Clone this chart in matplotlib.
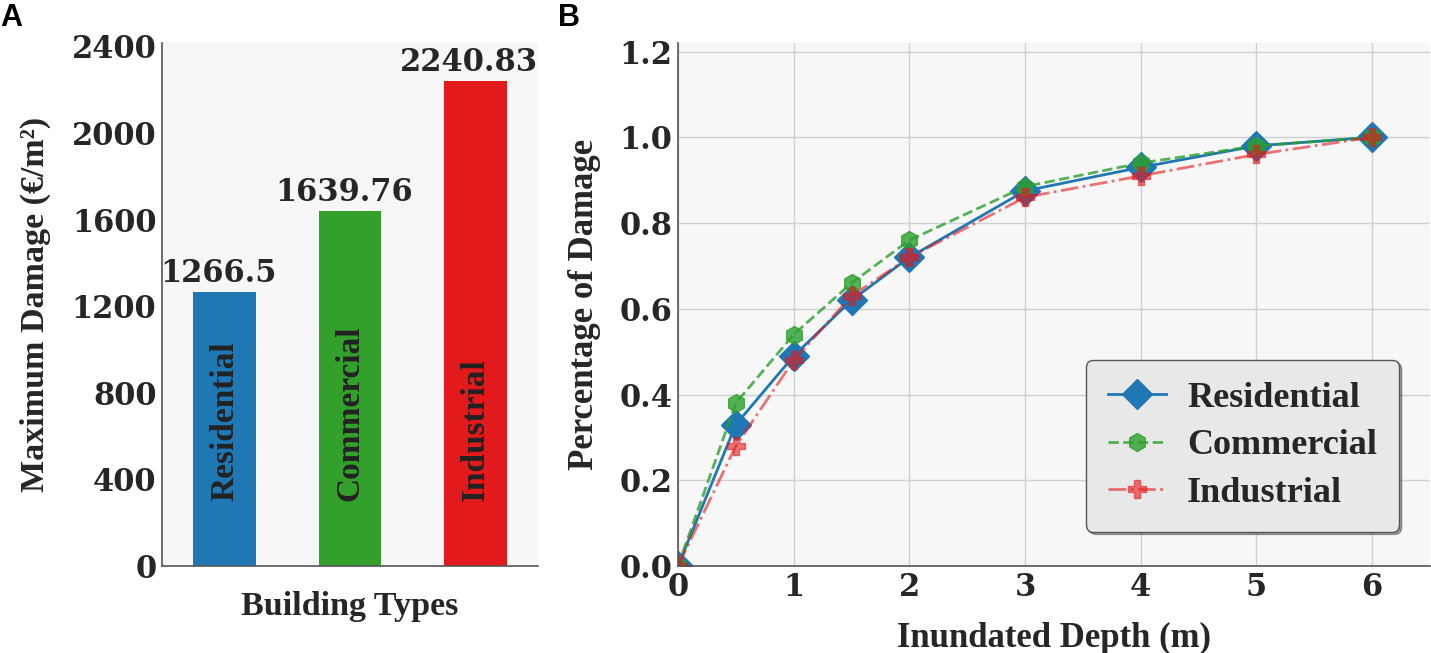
import numpy as np
import matplotlib.pyplot as plt

# panel A data
building_types = ["Residential", "Commercial", "Industrial"]
max_damage = [1266.5, 1639.76, 2240.83]
value_labels = ["1266.5", "1639.76", "2240.83"]
bar_colors = ["#1f78b4", "#33a02c", "#e31a1c"]

# panel B data
depth = [0, 0.5, 1, 1.5, 2, 3, 4, 5, 6]
residential = [0.0, 0.33, 0.49, 0.62, 0.72, 0.875, 0.93, 0.98, 1.0]
commercial = [0.0, 0.38, 0.54, 0.66, 0.76, 0.885, 0.94, 0.98, 1.0]
industrial = [0.0, 0.28, 0.48, 0.63, 0.72, 0.86, 0.91, 0.96, 1.0]

TXT = "#262626"
LABEL_FONT = "Liberation Serif"
plt.rcParams["font.family"] = "DejaVu Serif"
plt.rcParams["font.weight"] = "bold"
plt.rcParams["text.color"] = TXT
plt.rcParams["axes.labelcolor"] = TXT
plt.rcParams["xtick.color"] = TXT
plt.rcParams["ytick.color"] = TXT

fig = plt.figure(figsize=(14.31, 6.53), dpi=100)
ax1 = fig.add_axes([0.1132, 0.1332, 0.2628, 0.801])
ax2 = fig.add_axes([0.4738, 0.1332, 0.5255, 0.801])

for ax in (ax1, ax2):
    ax.set_facecolor("#f7f7f7")
    for s in ("top", "right"):
        ax.spines[s].set_visible(False)
    for s in ("left", "bottom"):
        ax.spines[s].set_color("#555555")
        ax.spines[s].set_linewidth(1.2)
    ax.tick_params(length=0, labelsize=22, pad=4)

# ---- A: bars
x = np.arange(len(building_types))
ax1.bar(x, max_damage, width=0.5, color=bar_colors)
for xi, v, lab, name in zip(x, max_damage, value_labels, building_types):
    ax1.text(xi - 0.05, v + 15, lab, ha="center", va="bottom", fontsize=22,
             fontweight="bold")
    ax1.text(xi, 300, name, rotation=90, ha="center", va="bottom", fontsize=24,
             fontweight="bold", family=LABEL_FONT, color="#222222")
ax1.set_xlim(-0.5, 2.5)
ax1.set_ylim(0, 2416)
ax1.set_yticks([0, 400, 800, 1200, 1600, 2000, 2400])
ax1.set_xticks([])
ax1.set_ylabel("Maximum Damage (€/m²)", fontsize=24.5, fontweight="bold",
               family=LABEL_FONT, labelpad=15)
ax1.set_xlabel("Building Types", fontsize=24.5, fontweight="bold",
               family=LABEL_FONT, labelpad=18)

# ---- B: curves
ax2.grid(True, color="#d0d0d0", linewidth=1)
ax2.set_axisbelow(True)
ax2.plot(depth, residential, color="#1f77b4", linestyle="-", linewidth=2,
         marker="D", markersize=15, label="Residential")
ax2.plot(depth, commercial, color="#2ca02c", linestyle="--", linewidth=2,
         marker="h", markersize=13, alpha=0.8, label="Commercial")
ax2.plot(depth, industrial, color="#e41a1c", linestyle="-.", linewidth=2,
         marker="P", markersize=13, alpha=0.6, label="Industrial")
ax2.set_xlim(0, 6.5)
ax2.set_ylim(0, 1.22)
ax2.set_xticks([0, 1, 2, 3, 4, 5, 6])
ax2.set_yticks([0.0, 0.2, 0.4, 0.6, 0.8, 1.0, 1.2])
ax2.set_yticklabels([f"{t:.1f}" for t in [0.0, 0.2, 0.4, 0.6, 0.8, 1.0, 1.2]])
ax2.set_xlabel("Inundated Depth (m)", fontsize=25, fontweight="bold",
               family=LABEL_FONT, labelpad=14)
ax2.set_ylabel("Percentage of Damage", fontsize=25, fontweight="bold",
               family=LABEL_FONT, labelpad=13)
leg = ax2.legend(loc="lower right", bbox_to_anchor=(0.973, 0.045),
                 prop={"family": LABEL_FONT, "weight": "bold", "size": 26},
                 frameon=True, shadow=True, fancybox=True, borderpad=0.6,
                 labelspacing=0.4, handlelength=1.6, handletextpad=0.6,
                 borderaxespad=0.3)
leg.get_frame().set_facecolor("#e8e8e8")
leg.get_frame().set_edgecolor("#555555")

fig.text(0.0, 0.995, "A", fontsize=22, fontweight="bold", family="Liberation Sans",
         va="top", color="black")
fig.text(0.39, 0.995, "B", fontsize=22, fontweight="bold", family="Liberation Sans",
         va="top", color="black")

fig.savefig("out.png", dpi=100)
